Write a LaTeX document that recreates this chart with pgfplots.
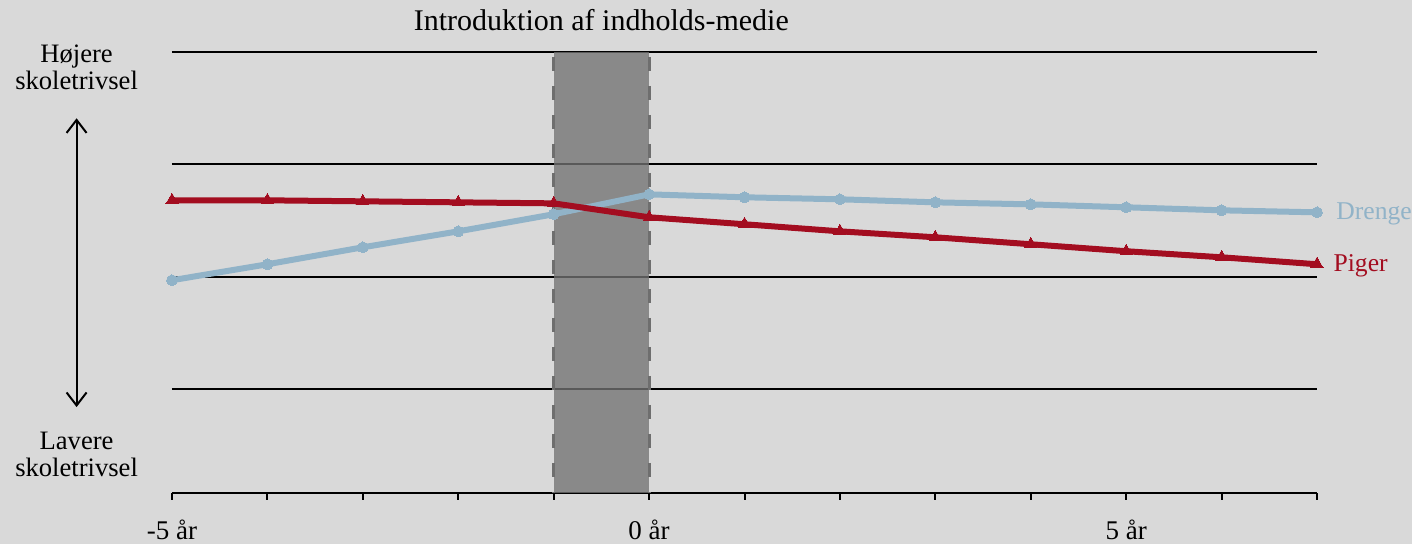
\documentclass[border=0pt]{standalone}
\usepackage{pgfplots}
\pgfplotsset{compat=1.18}
\usetikzlibrary{arrows.meta}
\usepackage{fontspec}
\setmainfont{Liberation Serif}
\definecolor{bg}{HTML}{D9D9D9}
\definecolor{boys}{HTML}{91B3C8}
\definecolor{girls}{HTML}{A30D20}
\definecolor{shade}{RGB}{115,115,115}
\definecolor{dashc}{HTML}{6E6E6E}
\begin{document}
\begin{tikzpicture}
\fill[bg] (-86pt,-25.5pt) rectangle (620pt,246.5pt);
\begin{axis}[
  at={(0,0)}, anchor=south west,
  scale only axis, width=572.5pt, height=220.5pt,
  xmin=-5, xmax=7, ymin=0.0756, ymax=4,
  axis x line*=bottom, axis y line*=left,
  y axis line style={draw=none},
  x axis line style={black, line width=1.3pt},
  xtick={-5,-4,...,7},
  xticklabels={-5 år,,,,,0 år,,,,,5 år,,},
  tick align=outside,
  major tick length=3.5pt,
  xtick style={black, line width=1pt},
  ytick={1,2,3,4}, yticklabels={},
  ytick style={draw=none},
  ymajorgrids, grid style={black, line width=1.1pt},
  xticklabel style={font=\fontsize{13.5}{15}\selectfont, yshift=-6.5pt},
  clip=false,
  /pgf/number format/assume math mode=true,
]
\addplot[fill=shade, fill opacity=0.78, draw=none] coordinates {(-1,0.0756) (0,0.0756) (0,4) (-1,4)} -- cycle;
\addplot[dashc, line width=1.5pt, dash pattern=on 7pt off 7.5pt, dash phase=-2.5pt] coordinates {(-1,4) (-1,0.0756)};
\addplot[dashc, line width=1.5pt, dash pattern=on 7pt off 7.5pt, dash phase=-2.5pt] coordinates {(0,4) (0,0.0756)};
% Drenge
\addplot[boys, line width=3pt, mark=*, mark size=2.7pt, mark options={fill=boys, draw=boys, line width=0pt}] coordinates {
(-5,1.969) (-4,2.111) (-3,2.262) (-2,2.404) (-1,2.556) (0,2.733) (1,2.707) (2,2.689) (3,2.662) (4,2.644) (5,2.618) (6,2.591) (7,2.573)};
% Piger
\addplot[girls, line width=3pt, mark=triangle*, mark size=3.5pt, mark options={fill=girls, draw=girls, line width=0pt}] coordinates {
(-5,2.680) (-4,2.680) (-3,2.671) (-2,2.662) (-1,2.653) (0,2.529) (1,2.467) (2,2.404) (3,2.351) (4,2.289) (5,2.227) (6,2.173) (7,2.111)};
\node[anchor=west, text=boys, font=\fontsize{12.8}{14}\selectfont] at (axis cs:7.13,2.556) {Drenge};
\node[anchor=west, text=girls, font=\fontsize{12.8}{14}\selectfont] at (axis cs:7.10,2.10) {Piger};
\node[font=\fontsize{15}{17}\selectfont] at (axis cs:-0.5,4.28) {Introduktion af indholds-medie};
\node[align=center, font=\fontsize{13.3}{13.5}\selectfont] at (axis cs:-6.0,3.86) {Højere\\skoletrivsel};
\node[align=center, font=\fontsize{13.3}{13.5}\selectfont] at (axis cs:-6.0,0.42) {Lavere\\skoletrivsel};
\draw[<->, >={Straight Barb[length=6.5pt, width=10pt]}, line width=1pt] (axis cs:-6,3.41) -- (axis cs:-6,0.84);
\end{axis}
\pgfresetboundingbox
\path (-86pt,-25.5pt) rectangle (620pt,246.5pt);
\end{tikzpicture}
\end{document}
